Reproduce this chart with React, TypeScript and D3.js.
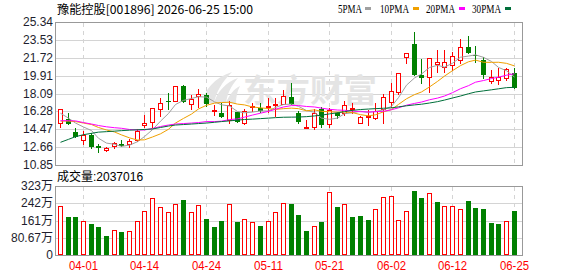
import React from "react";
import * as d3 from "d3";

const title = "豫能控股[001896] 2026-06-25 15:00";
const volumeLabel = "成交量:2037016";
const legendItems = ["5PMA", "10PMA", "20PMA", "30PMA"];

const dates = [
  "03-27","03-30","03-31","04-01","04-02","04-03","04-07","04-08","04-09","04-10",
  "04-13","04-14","04-15","04-16","04-17","04-20","04-21","04-22","04-23","04-24",
  "04-27","04-28","04-29","04-30","05-06","05-07","05-08","05-11","05-12","05-13",
  "05-14","05-15","05-18","05-19","05-20","05-21","05-22","05-25","05-26","05-27",
  "05-28","05-29","06-01","06-02","06-03","06-04","06-05","06-08","06-09","06-10",
  "06-11","06-12","06-15","06-16","06-17","06-18","06-22","06-23","06-24","06-25",
];
const xTickDates = ["04-01","04-14","04-24","05-11","05-21","06-02","06-12","06-25"];

const opens = [
  15.07,15.48,14.16,13.41,13.86,12.78,12.37,12.74,13.01,12.98,
  13.38,14.93,15.18,16.49,17.37,17.33,18.86,17.00,17.81,17.94,
  16.35,16.15,15.41,16.19,15.07,16.73,16.63,16.73,16.90,17.06,
  17.77,16.09,14.63,14.73,16.49,15.00,16.15,16.09,16.53,15.07,
  15.74,15.58,16.49,17.20,18.28,21.82,23.11,19.97,19.74,21.08,
  20.81,20.98,21.49,22.78,21.96,21.49,19.36,19.46,19.63,20.14,
];
const closes = [
  16.49,14.97,13.72,13.86,12.67,12.57,12.55,13.08,12.81,13.28,
  14.33,15.14,16.60,17.10,17.20,18.86,17.26,17.51,18.04,17.00,
  16.45,15.74,16.90,15.24,16.35,16.83,16.35,16.83,17.06,17.84,
  17.00,15.24,14.70,16.15,14.90,16.42,15.85,16.93,16.60,15.68,
  15.85,16.35,17.71,18.35,20.14,22.17,19.97,19.70,21.66,21.26,
  21.26,21.90,22.78,22.23,21.90,19.97,19.80,19.80,20.55,18.68,
];
const highs = [
  16.49,16.09,14.57,14.26,14.09,12.98,12.67,13.21,13.38,13.45,
  14.53,15.95,16.60,17.67,18.12,18.86,18.96,17.94,18.52,18.12,
  16.93,17.16,17.33,16.25,16.53,17.10,17.10,17.64,17.61,18.45,
  19.16,16.35,15.41,16.53,16.70,16.60,16.25,17.33,17.10,15.81,
  16.42,17.10,18.04,19.13,20.14,22.17,24.28,21.59,21.66,22.50,
  22.50,22.33,23.62,23.92,22.94,21.84,20.48,20.65,20.71,20.71,
];
const lows = [
  14.67,14.97,13.72,12.98,12.57,12.17,12.30,12.60,12.78,12.64,
  13.31,14.73,14.67,15.85,16.53,17.33,17.23,16.49,16.76,16.83,
  15.92,15.74,15.14,15.18,15.00,16.35,16.19,16.22,15.82,17.06,
  17.00,15.07,14.57,14.47,14.73,14.67,15.58,15.92,16.09,15.07,
  14.90,15.48,15.14,16.76,18.04,21.16,19.97,19.11,18.28,20.30,
  20.30,20.48,21.16,22.23,21.32,19.70,19.13,19.03,19.46,18.62,
];
// volume in 万 shares
const volumes = [
  229.4,177.9,177.9,157.6,145.1,131.1,88.9,117.0,107.7,112.3,
  157.6,206.0,265.2,223.1,201.3,238.7,257.5,201.3,234.1,168.5,
  131.1,159.2,238.7,154.5,168.5,154.5,135.8,159.2,201.3,243.4,
  238.7,187.2,112.3,135.8,154.5,293.4,224.7,238.7,177.9,182.6,
  163.8,213.7,269.9,276.2,162.2,204.4,299.6,266.8,288.6,248.1,
  229.4,229.4,213.7,252.8,220.0,215.3,151.3,145.1,157.6,203.7,
];
const volumeUp = [
  1,0,0,1,0,0,0,1,0,1,
  1,1,1,1,1,1,0,1,1,0,
  0,0,1,0,1,1,0,1,1,1,
  0,0,0,1,0,1,0,1,0,0,
  0,1,1,1,1,1,0,0,1,0,
  1,1,1,0,0,0,0,0,1,0,
];
const ma5 = [
  16.09,15.60,15.10,14.70,14.34,13.56,13.07,12.95,12.74,12.86,
  13.21,13.73,14.43,15.29,16.07,16.98,17.40,17.59,17.77,17.73,
  17.25,16.95,16.83,16.27,16.14,16.21,16.33,16.32,16.68,16.98,
  17.02,16.79,16.37,16.19,15.60,15.48,15.60,16.05,16.14,16.30,
  16.18,16.28,16.44,16.79,17.68,18.94,19.67,20.07,20.73,20.95,
  20.77,21.16,21.77,21.89,22.01,21.76,21.34,20.74,20.40,19.76,
];
const ma10 = [
  15.30,15.30,15.25,15.10,14.95,14.65,14.40,14.20,13.90,13.60,
  13.38,13.40,13.69,14.01,14.47,15.10,15.57,16.01,16.53,16.90,
  17.12,17.18,17.21,17.02,16.94,16.73,16.64,16.57,16.48,16.56,
  16.61,16.56,16.34,16.44,16.29,16.25,16.20,16.21,16.16,15.95,
  15.83,15.94,16.24,16.46,16.99,17.56,17.98,18.25,18.76,19.32,
  19.86,20.41,20.92,21.31,21.48,21.26,21.25,21.26,21.15,20.89,
];
const ma20 = [
  15.34,15.34,15.32,15.15,15.00,14.85,14.72,14.63,14.57,14.45,
  14.40,14.40,14.55,14.75,14.90,15.00,15.05,15.10,15.15,15.25,
  15.25,15.29,15.45,15.52,15.70,15.91,16.10,16.29,16.50,16.73,
  16.87,16.87,16.78,16.73,16.61,16.49,16.42,16.39,16.32,16.25,
  16.22,16.25,16.29,16.45,16.64,16.91,17.09,17.23,17.46,17.63,
  17.84,18.18,18.58,18.89,19.24,19.41,19.61,19.75,19.95,20.10,
];
const ma30 = [
  13.15,13.45,13.72,13.92,14.06,14.18,14.23,14.28,14.33,14.38,
  14.42,14.45,14.50,14.65,14.80,14.90,14.95,15.00,15.05,15.10,
  15.18,15.25,15.32,15.40,15.46,15.50,15.55,15.60,15.65,15.69,
  15.70,15.71,15.75,15.82,15.90,16.03,16.14,16.26,16.39,16.47,
  16.52,16.56,16.60,16.64,16.74,16.85,16.94,17.01,17.13,17.27,
  17.43,17.64,17.84,18.07,18.25,18.36,18.47,18.57,18.69,18.72,
];
const priceTicks = [25.34, 23.53, 21.72, 19.91, 18.09, 16.28, 14.47, 12.66, 10.85];
const volumeTicks = [322.68, 242.01, 161.34, 80.67, 0];
const volumeTickLabels = ["323万", "242万", "161万", "80.67万", "0"];

const RED = "#ff0000";
const GREEN = "#008000";
const GRID = "#d4d4d4";
const BORDER = "#999999";
const MA_COLORS = ["#a0a0a0", "#f0a000", "#ff00ff", "#006f3a"];

const L = 55, R = 522;
const PT = 22, PB = 165;
const VT = 186, VB = 255;

export default function App() {
  const idx = d3.range(dates.length);
  const x = d3.scaleBand<number>().domain(idx).range([56.5, 518]);
  const cxOf = (i: number) => Math.floor((x(i) as number) + x.bandwidth() / 2);
  const y = d3.scaleLinear().domain([10.85, 25.34]).range([PB, PT]);
  const yv = d3.scaleLinear().domain([0, 322.68]).range([VB, VT]);

  const tickIdx = xTickDates.map((d) => dates.indexOf(d));
  const maSeries = [ma5, ma10, ma20, ma30];
  const line = d3
    .line<number>()
    .x((_, i) => cxOf(i) + 0.5)
    .y((v) => y(v));

  const latin = "'Liberation Sans', Arial, 'Noto Sans CJK SC', sans-serif";
  const legendPos = [
    { tx: 338, tw: 24, sx: 365 },
    { tx: 380, tw: 29, sx: 413 },
    { tx: 426, tw: 29, sx: 459 },
    { tx: 472, tw: 29, sx: 505 },
  ];

  return (
    <svg
      width={578}
      height={276}
      style={{ position: "absolute", left: 0, top: 0, background: "#fff" }}
    >
      <rect x={0} y={0} width={578} height={276} fill="#fff" />
      {/* title */}
      <text
        x={57}
        y={13.5}
        fontSize={12}
        fontFamily="'Noto Sans CJK SC', sans-serif"
        fill="#000"
        textLength={196}
        lengthAdjust="spacingAndGlyphs"
      >
        {title}
      </text>
      {/* legend */}
      {legendItems.map((t, k) => (
        <g key={t}>
          <text
            x={legendPos[k].tx}
            y={12.5}
            fontSize={12}
            fontFamily="'Liberation Serif', serif"
            fill="#000"
            textLength={legendPos[k].tw}
            lengthAdjust="spacingAndGlyphs"
          >
            {t}
          </text>
          <rect x={legendPos[k].sx} y={7} width={6} height={3} fill={MA_COLORS[k]} />
        </g>
      ))}

      {/* grid */}
      <g shapeRendering="crispEdges">
        {priceTicks.map((t) => (
          <line
            key={"pg" + t}
            x1={L}
            x2={R}
            y1={Math.round(y(t)) + 0.5}
            y2={Math.round(y(t)) + 0.5}
            stroke={GRID}
          />
        ))}
        {volumeTicks.map((t) => (
          <line
            key={"vg" + t}
            x1={L}
            x2={R}
            y1={Math.round(yv(t)) + 0.5}
            y2={Math.round(yv(t)) + 0.5}
            stroke={GRID}
          />
        ))}
        {tickIdx.map((i) => (
          <g key={"vx" + i}>
            <line
              x1={cxOf(i) + 0.5}
              x2={cxOf(i) + 0.5}
              y1={PT + 1}
              y2={PB}
              stroke={GRID}
              strokeDasharray="4,4"
            />
            <line
              x1={cxOf(i) + 0.5}
              x2={cxOf(i) + 0.5}
              y1={VT + 1}
              y2={VB}
              stroke={GRID}
              strokeDasharray="4,4"
            />
          </g>
        ))}
      </g>

      {/* watermark */}
      <g fill="#e4e4e4">
        <path d="M203,103 C204,90 214,78 232,72 C222,82 216,92 214,103 Z" />
        <path d="M214,103 C217,92 226,82 238,78 C231,86 227,94 226,103 Z" />
        <path d="M226,103 C229,95 234,89 240,86 C237,92 236,97 236,103 Z" />
        <text
          x={243}
          y={102}
          fontSize={32}
          fontWeight="bold"
          fontFamily="'Noto Sans CJK SC', sans-serif"
          textLength={134}
          lengthAdjust="spacingAndGlyphs"
        >
          东方财富
        </text>
      </g>

      {/* borders */}
      <g shapeRendering="crispEdges" fill="none" stroke={BORDER}>
        <rect x={L + 0.5} y={PT + 0.5} width={R - L} height={PB - PT} />
        <rect x={L + 0.5} y={VT + 0.5} width={R - L} height={VB - VT} />
      </g>

      {/* candles */}
      <g shapeRendering="crispEdges">
        {idx.map((i) => {
          const cx = cxOf(i);
          const up = closes[i] >= opens[i];
          const col = up ? RED : GREEN;
          const top = Math.round(y(Math.max(opens[i], closes[i])));
          const bot = Math.round(y(Math.min(opens[i], closes[i])));
          const hi = Math.round(y(highs[i]));
          const lo = Math.round(y(lows[i]));
          return (
            <g key={"c" + i}>
              <line x1={cx + 0.5} x2={cx + 0.5} y1={hi} y2={lo + 1} stroke={col} />
              {up ? (
                bot - top >= 1 ? (
                  <rect x={cx - 1.5} y={top + 0.5} width={4} height={bot - top} fill="#fff" stroke={col} />
                ) : (
                  <rect x={cx - 2} y={top} width={5} height={1} fill={col} />
                )
              ) : (
                <rect x={cx - 2} y={top} width={5} height={Math.max(bot - top, 1)} fill={col} />
              )}
            </g>
          );
        })}
      </g>

      {/* moving averages */}
      <g fill="none" strokeWidth={1}>
        {maSeries.map((s, k) => (
          <path key={"ma" + k} d={line(s) || ""} stroke={MA_COLORS[k]} />
        ))}
      </g>

      {/* volume bars */}
      <g shapeRendering="crispEdges">
        {idx.map((i) => {
          const cx = cxOf(i);
          const top = Math.round(yv(volumes[i]));
          return volumeUp[i] ? (
            <rect
              key={"v" + i}
              x={cx - 1.5}
              y={top + 0.5}
              width={4}
              height={VB - top - 1}
              fill="#fff"
              stroke={RED}
            />
          ) : (
            <rect key={"v" + i} x={cx - 2} y={top} width={5} height={VB - top} fill={GREEN} />
          );
        })}
      </g>

      {/* y labels */}
      <g fontSize={12} fontFamily={latin} fill="#1e1e2e" textAnchor="end">
        {priceTicks.map((t) => (
          <text key={"pl" + t} x={53} y={Math.round(y(t)) + 4}>
            {t.toFixed(2)}
          </text>
        ))}
        {volumeTicks.map((t, k) => (
          <text key={"vl" + t} x={53} y={Math.round(yv(t)) + 4}>
            {volumeTickLabels[k]}
          </text>
        ))}
      </g>

      {/* volume title */}
      <text x={57} y={181} fontSize={12} fontFamily={latin} fill="#000">
        {volumeLabel}
      </text>

      {/* x labels */}
      <g fontSize={12} fontFamily={latin} fill={RED} textAnchor="middle">
        {tickIdx.map((i, k) => (
          <text
            key={"xl" + i}
            x={cxOf(i) + 0.5}
            y={270}
            textLength={29}
            lengthAdjust="spacingAndGlyphs"
          >
            {xTickDates[k]}
          </text>
        ))}
      </g>
    </svg>
  );
}
